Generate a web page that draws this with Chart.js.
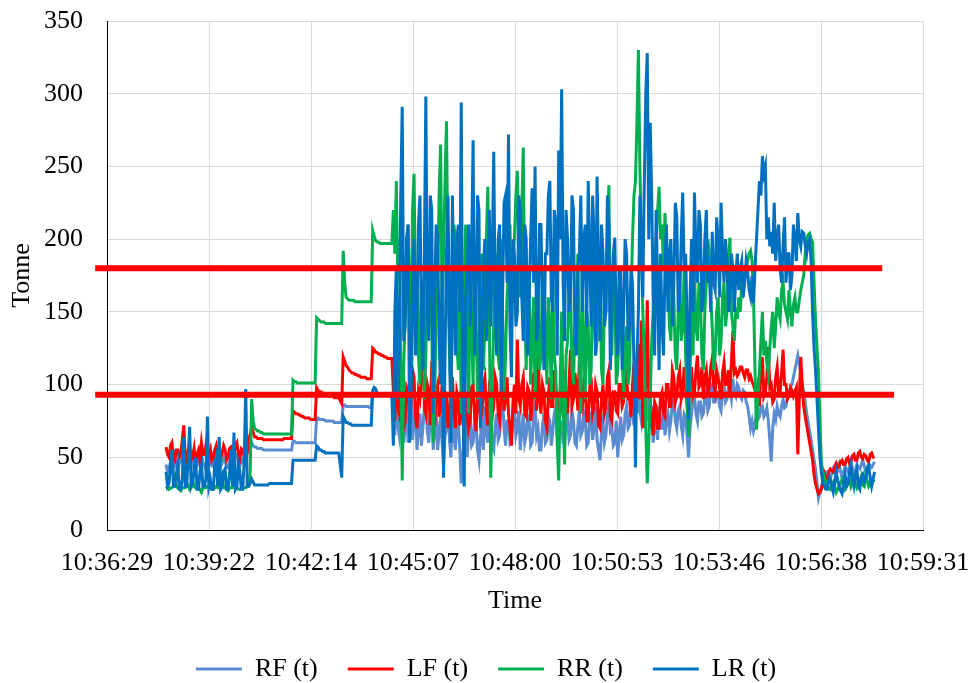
<!DOCTYPE html>
<html>
<head>
<meta charset="utf-8">
<title>Tonne vs Time</title>
<script src="https://cdn.jsdelivr.net/npm/chart.js@4/dist/chart.umd.min.js"></script>
<style>
  html, body { margin: 0; padding: 0; background: #fff; }
  #wrap { width: 972px; height: 683px; position: relative; }
</style>
</head>
<body>
<div id="wrap"><canvas id="chart"></canvas></div>
<script>
// x axis labels (Excel time axis, one tick every 0.002 day)
const tickLabels = ['10:36:29', '10:39:22', '10:42:14', '10:45:07', '10:48:00',
  '10:50:53', '10:53:46', '10:56:38', '10:59:31'];

// samples are 2.5 s apart, first one at 10:38:09
const sampleStart = '10:38:09';
const sampleStep = 2.5;

const rfValues = [
  45, 40, 42, 47, 48, 43, 50, 44, 40, 46,
  47, 50, 52, 45, 44, 49, 46, 42, 50, 45,
  41, 47, 48, 44, 53, 46, 45, 41, 43, 48,
  49, 44, 44, 50, 51, 45, 40, 44, 46, 50,
  48, 43, 43, 47, 50, 45, 47, 52, 52, 46,
  44, 48, 49, 45, 50, 53, 55, 58,
  60, 58, 57, 57, 56, 56, 56, 56,
  55, 55, 55, 55, 55, 55, 55, 55, 55, 55, 55, 55, 55, 55, 55, 55, 55, 55, 55, 55,
  61, 61, 60, 60, 60, 60, 60, 60, 60, 60, 60, 60, 60, 60, 60, 60,
  77, 77, 76, 76, 76, 76, 75, 75, 75, 75, 75, 75, 74, 74, 74, 74, 74, 74,
  86, 86, 85, 85, 85, 85, 85, 85, 85, 85, 85, 85, 85, 85, 85, 85, 85, 85, 84, 84,
  94, 94, 93, 93, 93, 93, 93, 93, 93, 93, 93, 93, 92, 93,
  80, 65, 90, 72, 65, 82, 85, 60, 70, 85,
  60, 75, 88, 62, 75, 88, 55, 70, 80, 58,
  70, 85, 90, 68, 60, 78, 85, 55, 70, 82,
  55, 68, 78, 60, 45, 65, 70, 80, 62, 50,
  85, 65, 55, 72, 75, 55, 32, 50, 65, 78,
  50, 68, 80, 58, 60, 75, 72, 55, 48, 65,
  70, 55, 85, 68, 60, 78, 75, 58, 55, 72,
  80, 62, 65, 85, 90, 70, 58, 75, 75, 60,
  62, 78, 85, 65, 70, 82, 55, 68, 80, 60,
  65, 78, 75, 58, 60, 80, 85, 65, 70, 55,
  55, 72, 80, 60, 62, 78, 75, 58, 68, 80,
  85, 65, 58, 75, 72, 60, 60, 78, 80, 62,
  65, 82, 75, 60, 58, 72, 82, 65, 68, 80,
  75, 58, 60, 78, 80, 62, 70, 85, 62, 55,
  48, 68, 75, 60, 65, 80, 85, 68, 70, 58,
  60, 75, 50, 65, 78, 62, 65, 80, 85, 70,
  72, 88, 80, 72, 90, 80, 100, 82, 75, 90,
  85, 70, 95, 78, 70, 85, 60, 72, 75, 62,
  85, 70, 70, 82, 65, 75, 80, 68, 75, 88,
  90, 75, 70, 82, 85, 72, 65, 80, 78, 65,
  50, 70, 80, 90, 92, 80, 75, 88, 88, 78,
  80, 92, 95, 82, 85, 98, 100, 88, 88, 95,
  95, 85, 82, 95, 100, 88, 90, 98, 96, 90,
  104, 95, 92, 100, 98, 92, 90, 96, 95, 88,
  85, 78, 70, 75, 68, 72, 82, 76, 78, 84,
  85, 78, 80, 84, 75, 62, 47, 70, 80, 76,
  85, 80, 78, 85, 90, 84, 85, 92, 95, 98,
  100, 105, 110, 115,
  120, 114, 108, 100, 95, 88, 80, 74, 68, 62, 55, 48, 42, 32, 22, 26,
  30, 34, 38, 40, 40, 37, 35, 39, 42, 40,
  38, 41, 45, 40, 36, 40, 44, 42, 40, 43,
  47, 42, 38, 41, 45, 43, 42, 45, 48, 44,
  40, 43, 46, 44, 43, 45, 47
];

const lfValues = [
  57, 52, 50, 58, 60, 50, 48, 55, 55, 50,
  52, 62, 72, 50, 47, 55, 58, 48, 50, 56,
  45, 52, 55, 48, 60, 52, 52, 58, 48, 53,
  56, 48, 50, 55, 58, 50, 44, 50, 53, 58,
  55, 48, 50, 56, 57, 50, 52, 58, 60, 52,
  49, 56, 55, 50, 58, 54, 62, 66,
  70, 67, 64, 64, 63, 63, 63, 63,
  62, 62, 62, 62, 62, 62, 62, 62, 62, 62, 62, 62, 62, 62, 63, 63, 63, 63, 63, 63,
  82, 81, 80, 80, 79, 79, 78, 78, 77, 77, 77, 77, 76, 76, 76, 76,
  98, 96, 95, 95, 94, 94, 93, 93, 92, 92, 92, 92, 91, 91, 91, 91, 89, 87,
  119, 116, 113, 112, 110, 109, 108, 108, 107, 107, 106, 106, 105, 105, 105, 105, 104, 104, 104, 104,
  125, 124, 122, 122, 121, 121, 120, 120, 119, 119, 118, 118, 118, 118,
  95, 75, 118, 85, 80, 105, 100, 70, 75, 98,
  95, 80, 85, 110, 105, 78, 70, 95, 90, 105,
  140, 85, 80, 100, 95, 72, 116, 88, 72, 95,
  100, 78, 85, 100, 65, 88, 95, 70, 78, 98,
  105, 82, 70, 95, 90, 72, 80, 100, 60, 85,
  95, 70, 75, 98, 100, 80, 68, 92, 90, 75,
  80, 100, 105, 82, 72, 98, 95, 78, 85, 105,
  100, 80, 75, 95, 110, 82, 90, 105, 80, 70,
  58, 88, 100, 80, 131, 90, 85, 100, 105, 80,
  78, 98, 95, 75, 85, 108, 100, 82, 131, 90,
  80, 100, 95, 75, 70, 92, 105, 85, 85, 110,
  100, 80, 75, 95, 90, 78, 110, 88, 80, 100,
  124, 85, 90, 108, 100, 82, 117, 90, 85, 100,
  95, 75, 75, 98, 105, 80, 85, 100, 95, 72,
  70, 90, 100, 80, 85, 105, 110, 78, 75, 95,
  95, 82, 80, 100, 100, 85, 88, 110, 105, 90,
  90, 78, 100, 115, 95, 110, 128, 90, 144, 70,
  80, 100, 158, 95, 90, 75, 65, 88, 85, 70,
  70, 92, 95, 80, 78, 100, 100, 85, 85, 110,
  105, 88, 92, 105, 110, 90, 95, 112, 100, 85,
  88, 105, 112, 92, 95, 110, 120, 98, 100, 112,
  90, 105, 110, 95, 98, 112, 118, 100, 95, 110,
  105, 98, 90, 108, 115, 100, 100, 110, 95, 115,
  137, 108, 110, 106, 108, 112, 112, 108, 105, 110,
  110, 104, 106, 102, 100, 96, 94, 100, 85, 110,
  119, 92, 95, 105, 126, 98, 100, 88, 90, 105,
  112, 95, 95, 108, 124, 100, 100, 90, 92, 98,
  96, 92, 95, 98,
  52, 90, 119, 100, 85, 78, 72, 66, 60, 54, 48, 38, 32, 28, 25, 26,
  28, 33, 39, 36, 35, 40, 42, 41, 40, 44,
  46, 43, 44, 47, 48, 45, 45, 49, 50, 46,
  47, 51, 52, 48, 48, 53, 54, 50, 49, 52,
  51, 48, 47, 52, 53, 50, 50
];

const rrValues = [
  30, 29, 28, 29, 29, 30, 36, 30, 29, 28,
  27, 29, 29, 29, 30, 31, 28, 29, 35, 30,
  29, 29, 29, 28, 26, 29, 29, 29, 30, 30,
  29, 28, 28, 29, 30, 29, 29, 30, 36, 29,
  29, 28, 27, 29, 29, 29, 30, 29, 29, 28,
  28, 29, 29, 29, 29, 30, 30, 40,
  90, 75, 70, 69, 68, 68, 67, 67,
  66, 66, 66, 66, 66, 66, 66, 66, 66, 66, 66, 66, 66, 66, 66, 66, 66, 66, 66, 66,
  103, 102, 102, 101, 101, 101, 101, 101, 101, 101, 101, 101, 101, 101, 101, 101,
  146, 145, 144, 143, 143, 143, 142, 142, 142, 142, 142, 142, 142, 142, 142, 142, 142, 142,
  192, 170, 160, 159, 158, 158, 158, 158, 157, 157, 157, 157, 157, 157, 157, 157, 157, 157, 157, 157,
  206, 202, 199, 198, 198, 197, 197, 197, 197, 197, 197, 197, 197, 197,
  220, 190, 240, 170, 200, 120, 34, 110, 150, 200,
  210, 150, 130, 220, 245, 160, 180, 120, 100, 170,
  160, 90, 120, 180, 200, 150, 140, 60, 90, 150,
  170, 230, 265, 150, 190, 240, 281, 170, 120, 90,
  150, 210, 200, 130, 110, 170, 80, 120, 160, 210,
  130, 80, 180, 140, 100, 190, 150, 90, 120, 170,
  190, 110, 140, 200, 236, 150, 36, 100, 140, 190,
  170, 120, 110, 200, 150, 90, 120, 160, 180, 210,
  140, 190, 200, 230, 247, 180, 160, 220, 263, 150,
  110, 180, 170, 100, 130, 160, 90, 140, 160, 110,
  120, 170, 180, 130, 100, 160, 140, 90, 170, 120,
  110, 60, 34, 100, 150, 90, 45, 120, 130, 160,
  170, 110, 100, 140, 150, 190, 120, 80, 170, 130,
  90, 150, 140, 100, 110, 170, 160, 120, 130, 190,
  180, 110, 100, 160, 150, 200, 237, 140, 120, 180,
  170, 100, 110, 150, 150, 120, 90, 130, 140, 100,
  110, 160, 200, 230, 240, 280, 330, 250, 200, 150,
  120, 70, 32, 60, 90, 130, 150, 190, 200, 220,
  236, 200, 210, 180, 218, 190, 170, 140, 130, 170,
  160, 120, 110, 150, 170, 130, 140, 180, 120, 90,
  64, 110, 150, 120, 180, 140, 130, 170, 160, 120,
  110, 150, 170, 200, 190, 160, 140, 110, 120, 150,
  160, 120, 130, 160, 170, 140, 150, 180, 201, 150,
  140, 130, 153, 145, 160, 150, 170, 165, 175, 180,
  185, 190, 192, 185, 160, 110, 69, 90, 110, 130,
  150, 120, 130, 115, 108, 125, 140, 150, 125, 140,
  160, 150, 145, 165, 170, 155, 150, 145, 165, 150,
  140, 155, 160, 150,
  150, 158, 165, 170, 175, 190, 200, 203, 204, 200, 198, 170, 144, 125, 108, 75,
  46, 40, 36, 33, 30, 29, 28, 31, 33, 30,
  26, 28, 30, 33, 35, 31, 28, 30, 32, 35,
  30, 33, 36, 32, 29, 31, 34, 37, 31, 30,
  38, 34, 30, 32, 35, 34, 33
];

const lrValues = [
  40, 30, 32, 45, 55, 30, 30, 38, 45, 28,
  28, 35, 64, 30, 30, 50, 71, 30, 33, 40,
  50, 28, 28, 40, 45, 30, 30, 35, 78, 30,
  35, 28, 28, 45, 50, 30, 64, 28, 30, 40,
  42, 28, 28, 38, 55, 30, 67, 28, 30, 45,
  40, 28, 28, 50, 97, 30, 30, 32,
  35, 33, 31, 31, 31, 31, 31, 31, 31, 31, 31, 31,
  32, 32, 32, 32, 32, 32, 32, 32, 32, 32, 32, 32, 32, 32, 32, 32,
  48, 48, 48, 48, 48, 48, 48, 48, 48, 48, 48, 48, 48, 48, 48, 48,
  58, 57, 55, 55, 54, 54, 53, 53, 53, 53, 53, 53, 53, 53, 53, 53, 45, 36,
  78, 76, 74, 74, 73, 73, 72, 72, 72, 72, 72, 72, 72, 72, 72, 72, 72, 72, 72, 72,
  96, 98, 97, 94, 93, 93, 93, 93, 93, 93, 93, 93, 93, 93,
  58, 150, 180, 90, 120, 230, 291, 130, 140, 200,
  210, 60, 90, 170, 200, 120, 150, 210, 230, 140,
  110, 190, 298, 150, 130, 230, 220, 80, 160, 210,
  200, 130, 100, 180, 36, 120, 190, 230, 140, 60,
  230, 170, 120, 200, 210, 150, 294, 100, 30, 160,
  180, 210, 140, 190, 268, 120, 150, 230, 220, 70,
  110, 180, 200, 130, 170, 220, 140, 190, 260, 150,
  120, 200, 210, 95, 160, 225, 230, 170, 272, 140,
  105, 200, 190, 140, 150, 230, 220, 160, 130, 210,
  200, 120, 160, 200, 235, 170, 250, 130, 140, 210,
  210, 150, 110, 190, 190, 230, 240, 160, 150, 220,
  210, 120, 261, 200, 303, 170, 130, 220, 200, 150,
  160, 230, 220, 130, 120, 180, 190, 230, 150, 200,
  210, 140, 240, 190, 140, 230, 200, 120, 243, 180,
  130, 210, 190, 140, 150, 230, 210, 110, 160, 190,
  201, 140, 120, 180, 180, 110, 150, 200, 190, 130,
  140, 180, 170, 110, 43, 120, 150, 230, 200, 160,
  240, 300, 328, 200, 280, 230, 160, 120, 220, 170,
  110, 190, 142, 120, 180, 210, 150, 190, 200, 140,
  170, 225, 215, 150, 160, 200, 232, 180, 190, 140,
  76, 160, 200, 150, 232, 190, 170, 220, 210, 150,
  160, 200, 220, 170, 180, 150, 205, 170, 165, 215,
  200, 160, 225, 190, 170, 200, 185, 150, 160, 190,
  180, 150, 175, 190, 165, 180, 185, 160, 170, 185,
  178, 165, 160, 175, 156, 180, 200, 220, 240, 230,
  257, 245, 250, 200, 215, 195, 205, 190, 225, 185,
  200, 210, 180, 170, 195, 215, 170, 190, 190, 165,
  175, 210, 200, 185,
  218, 200, 195, 205, 204, 196, 190, 198, 200, 185, 149, 125, 110, 90, 69, 50,
  39, 33, 30, 28, 28, 36, 35, 30, 26, 32,
  40, 34, 30, 27, 25, 33, 38, 30, 32, 40,
  45, 35, 30, 38, 42, 30, 28, 36, 38, 33,
  35, 42, 44, 36, 30, 35, 40
];

const seriesNames = ['RF (t)', 'LF (t)', 'RR (t)', 'LR (t)'];
const seriesColors = ['#5B8BD0', '#FF0000', '#00B050', '#0070C0'];

// the two red limit lines laid over the plot
const limitValues = [180, 93];
const limitStart = ['10:36:09', '10:36:09'];
const limitEnd = ['10:58:22', '10:58:42'];

const toSec = s => {
  const [h, m, sec] = s.split(':').map(Number);
  return h * 3600 + m * 60 + sec;
};
const xMin = toSec(tickLabels[0]);
const xMax = toSec(tickLabels[tickLabels.length - 1]);
const t0 = toSec(sampleStart);
const toPoints = vals => vals.map((v, i) => ({ x: t0 + i * sampleStep, y: v }));

Chart.defaults.font.family = '"Liberation Serif", "Times New Roman", serif';
Chart.defaults.font.size = 26;
Chart.defaults.color = '#000';

const seriesValues = [rfValues, lfValues, rrValues, lrValues];
const datasets = seriesNames.map((name, k) => ({
    label: name,
    data: toPoints(seriesValues[k]),
    borderColor: seriesColors[k],
    backgroundColor: seriesColors[k],
    borderWidth: 3,
    pointRadius: 0,
    tension: 0,
    fill: false,
    order: 4 - k   // LR drawn on top, like Excel
}));

limitValues.forEach((v, k) => {
    datasets.push({
        label: 'limit' + k,
        data: [{ x: toSec(limitStart[k]), y: v }, { x: toSec(limitEnd[k]), y: v }],
        borderColor: '#FF0000',
        borderWidth: 6,
        pointRadius: 0,
        clip: false,
        order: 0
    });
});

// center the legend row on the full canvas and nudge it down a little
const legendPlacement = {
    id: 'legendPlacement',
    afterLayout(chart) {
        const lg = chart.legend;
        if (!lg) return;
        lg.left = 0;
        lg.right = chart.width;
        lg.top += 9;
        lg.bottom += 9;
    }
};

const gridColor = '#D9D9D9';

new Chart(document.getElementById('chart'), {
    type: 'line',
    data: { datasets },
    plugins: [legendPlacement],
    options: {
        animation: false,
        responsive: true,
        maintainAspectRatio: false,
        layout: { padding: { left: 0, right: 49, top: 21, bottom: 0 } },
        plugins: {
            legend: {
                position: 'bottom',
                labels: {
                    usePointStyle: true,
                    pointStyle: 'line',
                    pointStyleWidth: 46,
                    padding: 30,
                    color: '#000',
                    filter: item => item.datasetIndex < seriesNames.length,
                    sort: (a, b) => a.datasetIndex - b.datasetIndex
                }
            },
            tooltip: { enabled: false }
        },
        scales: {
            x: {
                type: 'linear',
                min: xMin,
                max: xMax,
                afterBuildTicks: scale => {
                    const step = (xMax - xMin) / (tickLabels.length - 1);
                    scale.ticks = tickLabels.map((_, i) => ({ value: xMin + i * step }));
                },
                // fixed band height; no extra side padding from the end labels
                afterFit: scale => {
                    scale.height = 87;
                    scale.paddingLeft = 0;
                    scale.paddingRight = 0;
                },
                ticks: {
                    autoSkip: false,
                    maxRotation: 0,
                    padding: 18,
                    callback: (v, i) => tickLabels[i]
                },
                grid: { color: gridColor, lineWidth: 1, drawTicks: false },
                border: { color: '#000', width: 1 },
                title: { display: true, text: 'Time', padding: { top: 0, bottom: 0 } }
            },
            y: {
                min: 0,
                max: 350,
                afterFit: scale => {
                    scale.width = 107;
                    scale.paddingTop = 0;
                    scale.paddingBottom = 0;
                },
                ticks: { stepSize: 50, padding: 24 },
                grid: { color: gridColor, lineWidth: 1, drawTicks: false },
                border: { color: '#000', width: 1 },
                title: { display: true, text: 'Tonne', padding: { top: 7, bottom: 0 } }
            }
        }
    }
});
</script>
</body>
</html>
